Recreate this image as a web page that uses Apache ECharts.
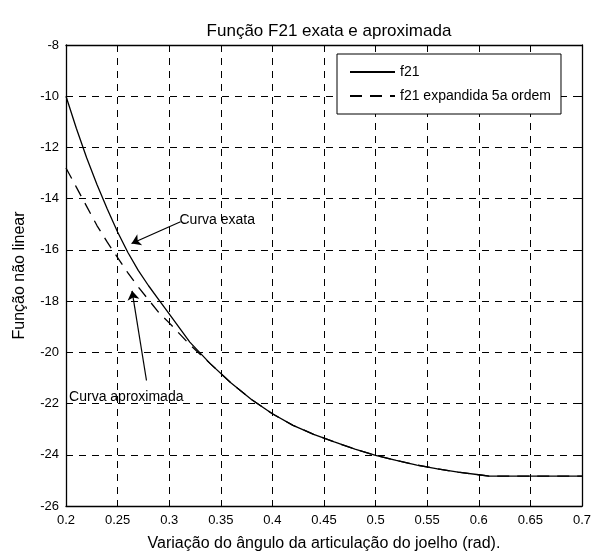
<!DOCTYPE html>
<html>
<head>
<meta charset="utf-8">
<script src="https://cdn.jsdelivr.net/npm/echarts@6/dist/echarts.min.js"></script>
<style>
  html, body { margin: 0; padding: 0; background: #fff; }
  #main { width: 594px; height: 560px; }
</style>
</head>
<body>
<div id="main"></div>
<script>
// dados
var xs = [0.20, 0.21, 0.22, 0.23, 0.24, 0.25, 0.26, 0.27, 0.28, 0.29, 0.30, 0.32, 0.34, 0.36, 0.38,
  0.40, 0.42, 0.44, 0.46, 0.48, 0.50, 0.52, 0.54, 0.56, 0.58, 0.60, 0.61, 0.65, 0.70];
var f21 = [-10, -11.25, -12.4, -13.45, -14.4, -15.3, -16.1, -16.8, -17.4, -17.95, -18.5, -19.6, -20.45, -21.2, -21.85,
  -22.4, -22.85, -23.2, -23.5, -23.78, -24.02, -24.22, -24.4, -24.55, -24.68, -24.78, -24.83, -24.83, -24.83];
var f21Exp = [-12.8, -13.55, -14.3, -15.05, -15.7, -16.3, -16.9, -17.45, -17.95, -18.45, -18.85, -19.7, -20.45, -21.2, -21.85,
  -22.4, -22.85, -23.2, -23.5, -23.78, -24.02, -24.22, -24.4, -24.55, -24.68, -24.78, -24.83, -24.83, -24.83];
var seriesNames = ['f21', 'f21 expandida 5a ordem'];

// anotações: [texto, ponto do texto, início da seta, ponta da seta]
var notes = [
  ['Curva exata', [0.310, -14.83], [0.311, -14.9], [0.2635, -15.75]],
  ['Curva aproximada', [0.203, -21.74], [0.278, -21.1], [0.264, -17.6]]
];

function pairs(x, y) {
  return x.map(function (v, i) { return [v, y[i]]; });
}

var font = 'Liberation Sans, Arial, sans-serif';
var chart = echarts.init(document.getElementById('main'));

var axisCommon = {
  axisLine: { lineStyle: { color: '#000', width: 1.3 } },
  axisTick: { inside: true, length: 6, lineStyle: { color: '#000' } }
};

chart.setOption({
  animation: false,
  backgroundColor: '#fff',
  title: {
    text: 'Função F21 exata e aproximada',
    left: 324, top: 18, textAlign: 'center',
    textStyle: { fontFamily: font, fontSize: 17, fontWeight: 'normal', color: '#000' }
  },
  grid: { left: 66, right: 11, top: 45, bottom: 54 },
  legend: {
    data: seriesNames,
    orient: 'vertical',
    left: 337, top: 54,
    padding: [11, 10, 11, 12],
    itemGap: 10, itemWidth: 45, itemHeight: 14,
    backgroundColor: '#fff',
    borderColor: '#000', borderWidth: 1,
    itemStyle: { opacity: 0 },
    textStyle: { fontFamily: font, fontSize: 14, color: '#000' }
  },
  xAxis: [
    Object.assign({
      type: 'value', min: 0.2, max: 0.7, interval: 0.05,
      name: 'Variação do ângulo da articulação do joelho (rad).',
      nameLocation: 'middle', nameGap: 30,
      nameTextStyle: { fontFamily: font, fontSize: 16, color: '#000' },
      axisLabel: { fontFamily: font, fontSize: 13, color: '#000', margin: 8,
        formatter: function (v) { return String(+v.toFixed(2)); } },
      splitLine: { show: true, lineStyle: { color: '#000', type: [7, 6], width: 1 } }
    }, axisCommon),
    Object.assign({
      type: 'value', min: 0.2, max: 0.7, interval: 0.05, position: 'top',
      axisLabel: { show: false }, splitLine: { show: false }
    }, axisCommon)
  ],
  yAxis: [
    Object.assign({
      type: 'value', min: -26, max: -8, interval: 2,
      name: 'Função não linear',
      nameLocation: 'middle', nameGap: 38, nameRotate: 90,
      nameTextStyle: { fontFamily: font, fontSize: 16, color: '#000' },
      axisLabel: { fontFamily: font, fontSize: 13, color: '#000', margin: 7 },
      splitLine: { show: true, lineStyle: { color: '#000', type: [7, 6], width: 1 } }
    }, axisCommon),
    Object.assign({
      type: 'value', min: -26, max: -8, interval: 2, position: 'right',
      axisLabel: { show: false }, splitLine: { show: false }
    }, axisCommon)
  ],
  series: [
    {
      name: seriesNames[0],
      type: 'line',
      data: pairs(xs, f21),
      symbol: 'none',
      lineStyle: { color: '#000', width: 1.3 },
      itemStyle: { color: '#000' },
      z: 3,
      markLine: {
        silent: true,
        symbol: ['none', 'arrow'],
        symbolSize: 9,
        lineStyle: { color: '#000', type: 'solid', width: 1.2 },
        itemStyle: { color: '#000' },
        label: { show: false },
        data: notes.map(function (n) {
          return [{ coord: n[2] }, { coord: n[3] }];
        })
      },
      markPoint: {
        silent: true,
        symbol: 'circle',
        symbolSize: 0,
        label: {
          show: true, position: 'right', distance: 0,
          fontFamily: font, fontSize: 14, color: '#000',
          formatter: function (p) { return p.name; }
        },
        data: notes.map(function (n) {
          return { name: n[0], coord: n[1] };
        })
      }
    },
    {
      name: seriesNames[1],
      type: 'line',
      data: pairs(xs, f21Exp),
      symbol: 'none',
      lineStyle: { color: '#000', width: 1.3, type: [12, 8] },
      itemStyle: { color: '#000' },
      z: 2
    }
  ]
});
</script>
</body>
</html>
